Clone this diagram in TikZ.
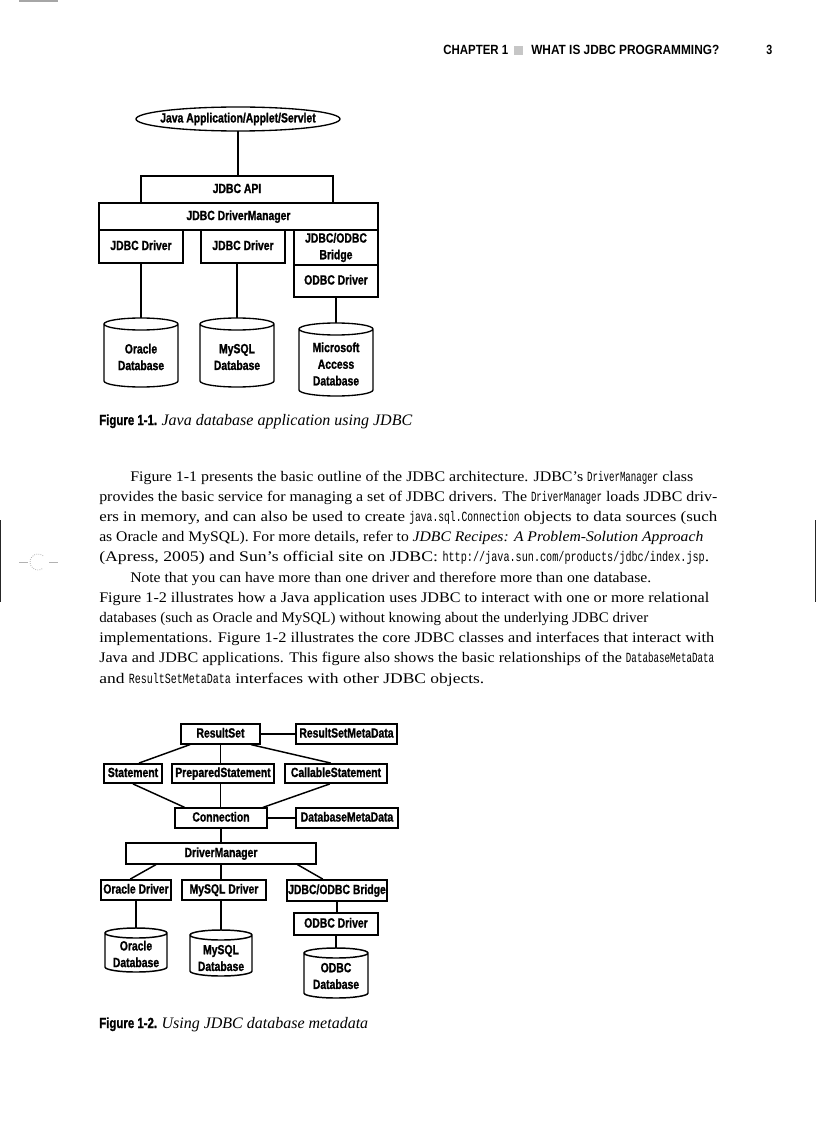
\documentclass[tikz,border=0pt]{standalone}
\usepackage{fontspec}
\usepackage{graphicx}
\usetikzlibrary{calc}
\setmainfont{Liberation Serif}
\newfontfamily\labfont[FakeStretch=0.78, BoldFeatures={FakeBold=1.2}]{Liberation Sans}
\newfontfamily\headfont[FakeStretch=0.8]{Liberation Sans}
\newfontfamily\codefont[FakeStretch=0.6]{Liberation Mono}
\newcommand\mycode[1]{{\codefont\fontsize{10.5}{12}\selectfont #1}}
\newcommand\bx[7]{\node[#1, minimum width={(#5-#3)*0.75pt}, minimum height={(#6-#4)*0.75pt}] (#2) at ({(#3+#5)/2},{(#4+#6)/2}) {#7};}
\newcommand\dbcyl[7]{%
  \node[inner sep=0, outer sep=0, minimum width={(#4-#2)*0.75pt}, minimum height={(#5-#3)*0.75pt}] (#1) at ({(#2+#4)/2},{(#3+#5)/2}) {};
  \draw[line width=#7] ([yshift={-#6*0.75pt}]#1.north west) -- ([yshift={#6*0.75pt}]#1.south west)
    arc[start angle=180,end angle=360,x radius={(#4-#2)*0.375pt},y radius={#6*0.75pt}]
    -- ([yshift={-#6*0.75pt}]#1.north east)
    arc[start angle=0,end angle=360,x radius={(#4-#2)*0.375pt},y radius={#6*0.75pt}];}
\newcommand\tl[5]{\node[txt] (#1) at (#2,#3) {\resizebox{#4}{\height}{#5}};}
\begin{document}
\begin{tikzpicture}[x=0.75pt,y=-0.75pt,
  lab/.style={font=\labfont\bfseries\fontsize{10}{12.5}\selectfont, align=center},
  fixh/.style={text height=7.3pt, text depth=2pt},
  boxa/.style={lab, fixh, draw, line width=1pt, inner sep=0},
  boxm/.style={lab, draw, line width=1pt, inner sep=0},
  boxb/.style={lab, fixh, draw, line width=0.9pt, inner sep=0},
  boxc/.style={lab, fixh, draw, line width=1.4pt, inner sep=0},
  conna/.style={line width=1pt},
  connb/.style={line width=1.1pt},
  txt/.style={anchor=base west, inner sep=0, font=\fontsize{11}{13}\selectfont},
  capfig/.style={anchor=base west, inner sep=0}]
\useasboundingbox (0,0) rectangle (816,1123);
% page marks
\draw[gray!70, line width=1pt] (19,1) -- (58,1);
\draw[line width=1.2pt, black!85] (0.6,520) -- (0.6,602);
\draw[line width=1.2pt, black!85] (815.4,520) -- (815.4,602);
\coordinate (cm) at (38,562);
\draw[gray!60, densely dotted, line width=0.6pt] ([shift={(50:6pt)}]cm) arc[start angle=50,end angle=310,radius=6pt];
\draw[gray!60, line width=0.6pt] (19,562) -- (28,562) (49,562) -- (58,562);
% header
\node[anchor=base west, inner sep=0] (hd1) at (443,55) {\resizebox{48.75pt}{\height}{\headfont\bfseries\fontsize{10}{12}\selectfont CHAPTER 1}};
\fill[gray!45] (514,46) rectangle (523,55);
\node[anchor=base west, inner sep=0] (hd2) at (531,55) {\resizebox{141pt}{\height}{\headfont\bfseries\fontsize{10}{12}\selectfont WHAT IS JDBC PROGRAMMING?}};
\node[anchor=base west, inner sep=0] (pg) at (766,55) {\headfont\bfseries\fontsize{10}{12}\selectfont 3};
% ---------- Figure 1-1 ----------
\node[lab, inner sep=0] (app) at (238,119) {Java Application/Applet/Servlet};
\draw[line width=1pt] (app.center) ellipse[x radius=76.5pt, y radius=9pt];
\coordinate (appbot) at (238,131);
\bx{boxa}{api}{141}{176}{333}{203}{JDBC API}
\bx{boxa}{dm1}{99}{203}{378}{230}{JDBC DriverManager}
\bx{boxa}{drv1}{99}{230}{183}{263}{JDBC Driver}
\bx{boxa}{drv2}{201}{230}{285}{263}{JDBC Driver}
\bx{boxm}{bridge1}{294}{230}{378}{265}{JDBC/ODBC\\Bridge}
\bx{boxa}{odbc1}{294}{265}{378}{297}{ODBC Driver}
\dbcyl{ora1}{104}{318}{178}{387}{6}{1pt}
\dbcyl{mys1}{200}{318}{274}{387}{6}{1pt}
\dbcyl{acc1}{299}{323}{373}{396}{6}{1pt}
\node[lab, inner sep=0] (ora1t) at (141,357) {Oracle\\Database};
\node[lab, inner sep=0] (mys1t) at (237,357) {MySQL\\Database};
\node[lab, inner sep=0] (acc1t) at (336,364) {Microsoft\\Access\\Database};
\draw[conna] (appbot) -- (appbot |- api.north);
\draw[conna] (drv1.south) -- (drv1.south |- ora1.north);
\draw[conna] (mys1.north |- drv2.south) -- (mys1.north);
\draw[conna] (odbc1.south) -- (odbc1.south |- acc1.north);
\node[capfig] (cap1) at (99,425) {{\labfont\bfseries\fontsize{11}{13}\selectfont Figure 1-1.} {\fontsize{12}{13}\selectfont\itshape Java database application using JDBC}};
% ---------- Body text ----------
\tl{l1}{130}{481}{422.25pt}{Figure 1-1 presents the basic outline of the JDBC architecture. JDBC’s \mycode{DriverManager} class}
\tl{l2}{99}{501.2}{463.5pt}{provides the basic service for managing a set of JDBC drivers. The \mycode{DriverManager} loads JDBC driv-}
\tl{l3}{99}{521.4}{463.5pt}{ers in memory, and can also be used to create \mycode{java.sql.Connection} objects to data sources (such}
\tl{l4}{99}{541.6}{453pt}{as Oracle and MySQL). For more details, refer to \textit{JDBC Recipes: A Problem-Solution Approach}}
\tl{l5}{99}{561.8}{457.5pt}{(Apress, 2005) and Sun’s official site on JDBC: \mycode{http://java.sun.com/products/jdbc/index.jsp}.}
\tl{l6}{130}{582}{390.75pt}{Note that you can have more than one driver and therefore more than one database.}
\tl{l7}{99}{602.2}{457.5pt}{Figure 1-2 illustrates how a Java application uses JDBC to interact with one or more relational}
\tl{l8}{99}{622.4}{411.75pt}{databases (such as Oracle and MySQL) without knowing about the underlying JDBC driver}
\tl{l9}{99}{642.6}{461.25pt}{implementations. Figure 1-2 illustrates the core JDBC classes and interfaces that interact with}
\tl{l10}{99}{662.8}{461.25pt}{Java and JDBC applications. This figure also shows the basic relationships of the \mycode{DatabaseMetaData}}
\tl{l11}{99}{683}{288.75pt}{and \mycode{ResultSetMetaData} interfaces with other JDBC objects.}
% ---------- Figure 1-2 ----------
\bx{boxb}{rs}{181}{724}{260}{744}{ResultSet}
\bx{boxc}{rsmd}{296}{724}{397}{744}{ResultSetMetaData}
\bx{boxc}{st}{104}{764}{162}{783}{Statement}
\bx{boxc}{ps}{172}{764}{274}{783}{PreparedStatement}
\bx{boxc}{cs}{285}{764}{387}{783}{CallableStatement}
\bx{boxb}{cn}{175}{808}{267}{828}{Connection}
\bx{boxc}{dbmd}{296}{808}{398}{828}{DatabaseMetaData}
\bx{boxb}{dm}{126}{843}{316}{864}{DriverManager}
\bx{boxc}{od}{101}{880}{171}{900}{Oracle Driver}
\bx{boxc}{md}{182}{880}{266}{900}{MySQL Driver}
\bx{boxc}{br}{287}{880}{387}{901}{JDBC/ODBC Bridge}
\bx{boxc}{odd}{294}{913}{378}{935}{ODBC Driver}
\dbcyl{ora2}{105}{928}{167}{972}{5}{1.1pt}
\dbcyl{mys2}{190}{930}{252}{976}{5}{1.1pt}
\dbcyl{odb}{304}{948}{368}{998}{5}{1.1pt}
\node[lab, inner sep=0] (ora2t) at (136,954) {Oracle\\Database};
\node[lab, inner sep=0] (mys2t) at (221,958) {MySQL\\Database};
\node[lab, inner sep=0] (odbt) at (336,976) {ODBC\\Database};
\draw[connb] ($(rs.south west)!0.12!(rs.south east)$) -- ($(st.north west)!0.6!(st.north east)$);
\draw[connb] (rs.south) -- (rs.south |- ps.north);
\draw[connb] ($(rs.south west)!0.88!(rs.south east)$) -- ($(cs.north west)!0.45!(cs.north east)$);
\draw[connb] (rs.east) -- (rsmd.west);
\draw[connb] (st.south) -- ($(cn.north west)!0.11!(cn.north east)$);
\draw[connb] (ps.south -| rs.south) -- (rs.south |- cn.north);
\draw[connb] ($(cs.south west)!0.44!(cs.south east)$) -- ($(cn.north west)!0.95!(cn.north east)$);
\draw[connb] (cn.east) -- (dbmd.west);
\draw[connb] (cn.south) -- (cn.south |- dm.north);
\draw[connb] ($(dm.south west)!0.16!(dm.south east)$) -- ($(od.north west)!0.42!(od.north east)$);
\draw[connb] (dm.south) -- (dm.south |- md.north);
\draw[connb] ($(dm.south west)!0.9!(dm.south east)$) -- ($(br.north west)!0.36!(br.north east)$);
\draw[connb] (od.south) -- (od.south |- ora2.north);
\draw[connb] (mys2.north |- md.south) -- (mys2.north);
\draw[connb] (br.south) -- (br.south |- odd.north);
\draw[connb] (odd.south) -- (odd.south |- odb.north);
\node[capfig] (cap2) at (99,1028) {{\labfont\bfseries\fontsize{11}{13}\selectfont Figure 1-2.} {\fontsize{12}{13}\selectfont\itshape Using JDBC database metadata}};
\end{tikzpicture}
\end{document}
